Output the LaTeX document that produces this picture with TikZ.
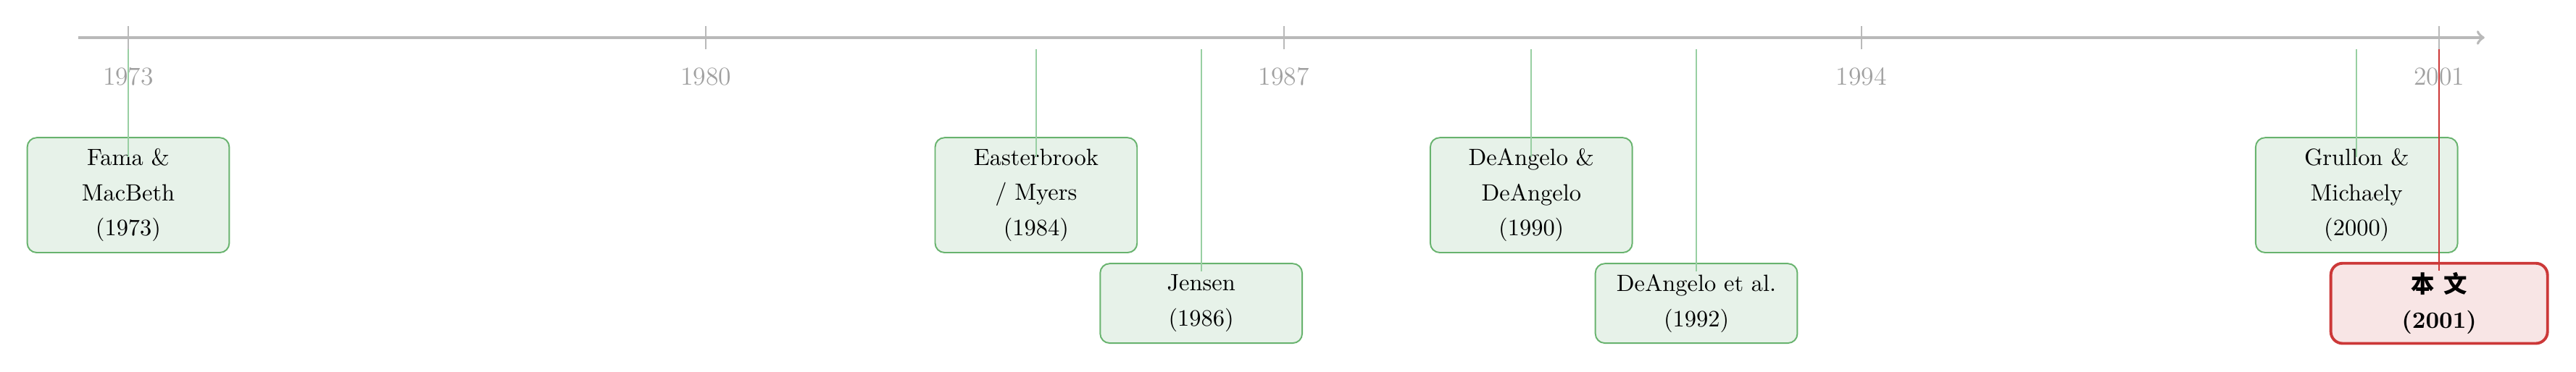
\documentclass[tikz,border=0pt]{standalone}
\usepackage{fontspec}
\newfontfamily\cjkfont{Noto Sans CJK SC}
\usetikzlibrary{positioning}

\definecolor{axisgray}{RGB}{185,185,185}
\definecolor{labelgray}{RGB}{160,160,160}
\definecolor{paperborder}{RGB}{104,179,110}
\definecolor{paperfill}{RGB}{231,242,233}
\definecolor{paperlink}{RGB}{152,207,162}
\definecolor{ownborder}{RGB}{204,56,56}
\definecolor{ownfill}{RGB}{248,229,229}

\begin{document}
\begin{tikzpicture}[x=1.234cm, y=1cm,
    every node/.style={font=\fontsize{10}{15}\selectfont},
    paper/.style={draw=paperborder, semithick, fill=paperfill, rounded corners=4pt, align=center, minimum width=3.02cm},
    tall/.style={paper, minimum height=1.72cm},
    short/.style={paper, minimum height=1.19cm},
    ownpaper/.style={draw=ownborder, very thick, fill=ownfill, rounded corners=5pt, align=center, minimum width=3.24cm, minimum height=1.2cm, font=\fontsize{10}{15}\selectfont\bfseries},
    yearlabel/.style={text=labelgray, font=\fontsize{11}{13}\selectfont},
    link/.style={draw=paperlink, line width=0.5pt},
    ownlink/.style={draw=ownborder, line width=0.6pt}]
  \useasboundingbox (-1.554,0.563) rectangle (29.658,-5.005);

  % time axis
  \draw[axisgray, very thick, ->] (-0.606,0) -- (28.55,0);
  \foreach \yr/\x in {1973/0, 1980/7, 1987/14, 1994/21, 2001/28} {
    \draw[axisgray, line width=0.6pt] (\x,0.17) -- (\x,-0.17);
    \node[yearlabel] (lab\yr) at (\x,-0.583) {\yr};
  }

  % papers
  \node[tall] (fama) at (0,-2.358) {Fama \&\\ MacBeth\\ (1973)};
  \node[tall] (easterbrook) at (11,-2.358) {Easterbrook\\ / Myers\\ (1984)};
  \node[short] (jensen) at (13,-3.978) {Jensen\\ (1986)};
  \node[tall] (deangelo) at (17,-2.358) {DeAngelo \&\\ DeAngelo\\ (1990)};
  \node[short] (deangeloetal) at (19,-3.978) {DeAngelo et al.\\ (1992)};
  \node[tall] (grullon) at (27,-2.358) {Grullon \&\\ Michaely\\ (2000)};
  \node[ownpaper] (thispaper) at (28,-3.978) {{\cjkfont 本\hspace{0.4em}文}\\ (2001)};

  % links from the axis
  \coordinate (a1973) at (0,-0.17);
  \coordinate (a1984) at (11,-0.17);
  \coordinate (a1986) at (13,-0.17);
  \coordinate (a1990) at (17,-0.17);
  \coordinate (a1992) at (19,-0.17);
  \coordinate (a2000) at (27,-0.17);
  \coordinate (a2001) at (28,-0.17);

  \draw[link] (a1973) -- ([yshift=-3mm]fama.north);
  \draw[link] (a1984) -- ([yshift=-3mm]easterbrook.north);
  \draw[link] (a1986) -- ([yshift=-1.3mm]jensen.north);
  \draw[link] (a1990) -- ([yshift=-3mm]deangelo.north);
  \draw[link] (a1992) -- ([yshift=-1.3mm]deangeloetal.north);
  \draw[link] (a2000) -- ([yshift=-3mm]grullon.north);
  \draw[ownlink] (a2001) -- ([yshift=-1.3mm]thispaper.north);
\end{tikzpicture}
\end{document}
